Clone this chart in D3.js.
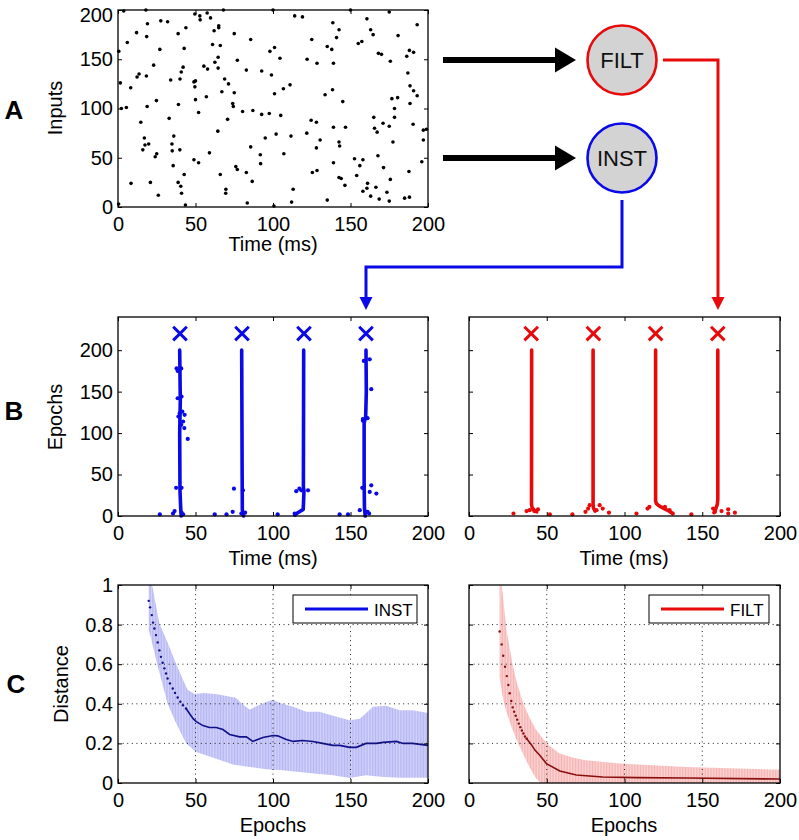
<!DOCTYPE html>
<html><head><meta charset="utf-8">
<script src="https://cdn.jsdelivr.net/npm/d3@7"></script>
<style>
body{margin:0;background:#fff;}
</style></head><body>
<svg id="fig" width="799" height="840" xmlns="http://www.w3.org/2000/svg"></svg>
<script>
// ---------------- DATA ----------------
// Panel A: input spike raster, [time (ms), input index]
const rasterSpikes = [[3.7,199],[18,200],[49.6,196],[52.8,194],[53,190],[57.5,197],[59.7,192],[68,200],[100,200],[150,200],[175,198],[114,194],[119,193],[160.6,191],[193,185],[19,186],[32,188],[18.5,173],[12,177],[6,167],[27.6,189],[43.8,182],[38.8,176],[62,179],[65,182],[65,184],[75,176],[85.6,170],[61,165],[66,164],[42.7,161],[27,160],[64.6,152],[62.5,147],[55.4,143],[57.8,140],[64.6,141],[77,149],[101,162],[98,158],[104.5,151],[82.8,139],[92.7,138],[99,134],[34,129],[23,144],[18.3,133],[13.6,135],[12.3,132],[42,142],[40.8,137],[40,130],[1.5,126],[8.2,121],[2.2,100],[5.4,101],[24.8,108],[18.8,102],[39,104],[49,127],[50,128],[49.6,122],[50,109],[52,96],[57,112],[68.8,130],[71.3,125],[67,117],[75,116],[74,105],[74.4,102],[80.4,97],[87,98],[70.7,89],[64.4,77],[92.7,94],[97.6,95],[105,93],[101,115],[106.7,120],[111,124],[14.7,86],[33,90],[17,70],[17.4,63],[19.8,64],[16,58],[24,51],[25,54],[36,72],[34.8,64],[35,57],[39.9,58],[35.6,42],[49,48],[52,45],[59,55],[42.7,33],[38.8,25],[40.5,21],[41,14],[43.5,2],[8.4,24],[20.9,25],[26,12],[0.4,3],[0.5,158],[66,33],[69.6,18],[69.5,14],[76,41],[77,38],[82.8,35],[86.6,26],[85.6,61],[92,44],[95,70],[91.8,53],[83.4,4],[100.6,1],[102,74],[107,54],[111.6,72],[113,18],[112,5],[121.8,75],[124.6,88],[128,86],[130.4,68],[128,60],[125.4,35],[128.4,37],[122,150],[128.4,146],[125,170],[135,163],[137.9,160],[133.6,114],[138.4,119],[145,107],[139,81],[146.8,81],[139,45],[142.6,66],[143,62],[142.6,30],[144,29],[146.4,22],[135,7],[139,146],[138.6,187],[142.6,180],[141,172],[155,166],[157.3,168],[163,180],[164.6,175],[168,156],[170,155],[175.7,148],[180.7,174],[186.3,153],[188,159],[190.7,157],[187,136],[188.4,123],[190.7,118],[193,113],[188.4,105],[176.7,110],[180.4,111],[178.4,100],[178.4,91],[165,91],[165.5,80],[167.2,76],[171,85],[175,82],[190.4,84],[197,78],[199,79],[177.4,66],[197,68],[196,46],[152.6,49],[158,48],[156,42],[154,32],[167.7,52],[171.3,40],[175.7,28],[161,24],[160.6,19],[158,16],[163,11],[166.4,20],[168.5,8],[175,6],[173.5,15],[184.9,9],[188,10],[187.7,36]];

// Panel B: target spike times and the epoch at which they are marked
const targetTimes = [40, 80, 120, 160];
const targetEpoch = 220;
// learned output spike trajectories, [time (ms), epoch]
const instTraces = [
  [[40.8,0],[40.5,8],[40,30],[39.8,100],[40.2,140],[39.8,200]],
  [[81,0],[80.5,3],[80.2,8],[80.1,50],[79.8,200]],
  [[114,1],[116,4],[119.5,8],[120,30],[119.6,35],[119.8,200]],
  [[159.5,0],[159,10],[158.8,40],[158.8,112],[159.8,120],[160.2,150],[160,200]]
];
const instStray = [[27,2],[35.5,3],[36.5,6],[37.5,34],[41,34],[41,4],[42,2],[37.8,178],[38.5,175],[40.8,178],[38.5,142],[41,144],[39.8,124],[41.5,126],[43,122],[42,114],[42.8,106],[40.8,110],[45,93],[39,120],
  [62.4,2],[70,2],[74,5],[74.8,33],[80.6,31],[79.6,3],[82,4],
  [103,2],[114,3],[115,30],[118.3,31],[122.6,31],[117,33],
  [143,2],[148.4,2],[156,7],[161,5],[162,3],[163.4,37],[162.4,29],[166.7,27],[157.6,34],[158,117],[161,118],[163.4,153],[162.4,189],[158.6,187],[158,115]];
const filtTraces = [
  [[43.5,5],[42,7],[40.6,10],[40.2,14],[40.3,200]],
  [[81,6],[80,10],[79.8,14],[79.8,200]],
  [[131,3],[128.5,6],[125.5,9],[122.5,12],[120.5,15],[120,18],[120,200]],
  [[157.5,4],[158.5,8],[159.7,14],[160,20],[160,200]]
];
const filtStray = [[28.6,3],[37,6],[39,7],[42,6],[44.4,8],[52,2],[66.5,2],[74.9,5],[76.6,9],[77.6,13],[82,7],[84,13],[86,9],[90,4],[107.7,3],[114.8,9],[116,11],[126,11],[129,7],[131,3],[143,2],[157,9],[158.2,5],[162.4,6],[166.7,8],[166.7,3],[171,4]];

// Panel C: distance vs epochs, [epoch, distance]
const instMeanDots = [[19.8,0.92],[20.7,0.887],[21.8,0.848],[22.6,0.81],[23.5,0.78],[24.5,0.747],[25.6,0.71],[26.7,0.67],[27.7,0.637],[28.8,0.607],[29.9,0.579],[31,0.553],[32,0.528],[33.5,0.503],[35.3,0.477],[36.8,0.455],[38.5,0.432],[40.2,0.41],[41.9,0.393],[43.9,0.376]];
const instMeanLine = [[43.9,0.376],[46.2,0.35],[48.5,0.325],[50.5,0.31],[54.8,0.29],[59,0.28],[63.4,0.28],[67.7,0.27],[72,0.245],[78.5,0.233],[82.8,0.233],[87,0.21],[93.5,0.23],[100,0.24],[103,0.238],[108.6,0.22],[113,0.21],[119,0.215],[125.8,0.21],[132,0.2],[138.7,0.19],[143,0.19],[149.5,0.18],[153.8,0.18],[160,0.2],[166.7,0.2],[171,0.205],[179.6,0.21],[184,0.2],[190,0.2],[200,0.19]];
const instUpper = [[19.8,1.08],[22.5,0.98],[26.7,0.806],[32,0.71],[37.4,0.604],[42,0.52],[45,0.47],[49.5,0.45],[55,0.455],[63,0.45],[70,0.44],[76,0.43],[80,0.4],[85,0.37],[90,0.39],[96,0.41],[100,0.42],[106,0.4],[113,0.385],[121.5,0.36],[130,0.36],[138.7,0.34],[149.5,0.317],[156,0.325],[164.5,0.385],[173,0.39],[181.7,0.368],[190,0.368],[200,0.354]];
const instLower = [[19.8,0.77],[21,0.74],[25.3,0.6],[32,0.4],[37.6,0.3],[44,0.2],[50.5,0.157],[63.4,0.123],[74,0.094],[85,0.081],[95.7,0.069],[106,0.064],[117,0.056],[128,0.047],[138.7,0.039],[149.5,0.025],[160,0.039],[171,0.03],[181.7,0.027],[200,0.027]];
const filtMeanDots = [[19.7,0.765],[21,0.7],[22,0.643],[23.2,0.587],[24.3,0.54],[25.3,0.495],[26.2,0.453],[27.2,0.414],[28.1,0.382],[29,0.36],[30,0.34],[31,0.32],[32,0.3],[33,0.282],[34,0.265],[35,0.25],[36,0.235],[37,0.225]];
const filtMeanLine = [[37,0.225],[38,0.215],[40,0.195],[42.5,0.165],[45.5,0.14],[49.8,0.098],[58.4,0.061],[69,0.04],[86,0.03],[108,0.027],[140,0.025],[200,0.02]];
const filtUpper = [[19.7,1.1],[24,0.78],[28,0.6],[31,0.5],[35,0.4],[39,0.33],[43,0.27],[50,0.2],[58,0.15],[66,0.13],[75,0.115],[97,0.098],[140,0.081],[200,0.067]];
const filtLower = [[19.7,0.53],[22,0.42],[24,0.36],[27,0.29],[30.5,0.22],[34,0.16],[37,0.11],[40,0.065],[43,0.025],[46,0],[200,0]];

const xTicks = [0,50,100,150,200];
const yTicksA = [0,50,100,150,200];
const yTicksB = [0,50,100,150,200];
const yTicksC = [0,0.2,0.4,0.6,0.8,1];

// ---------------- DRAWING ----------------
const FF = '"Liberation Sans", Arial, Helvetica, sans-serif';
const BLUE = "#0a0ae8", RED = "#e80a0a";
const svg = d3.select("#fig").attr("font-family", FF);

const defs = svg.append("defs");
function stripes(id, base, stripe){
  const p = defs.append("pattern").attr("id", id).attr("patternUnits","userSpaceOnUse")
    .attr("width",1.55).attr("height",10);
  p.append("rect").attr("width",1.55).attr("height",10).attr("fill",base);
  p.append("rect").attr("width",0.7).attr("height",10).attr("fill",stripe);
}
stripes("stripeBlue", "#d2d2fb", "#b4b4f2");
stripes("stripeRed", "#fcd4d4", "#f5b0b0");

function clip(id, x, y){
  defs.append("clipPath").attr("id",id).append("rect")
    .attr("x",x.range()[0]).attr("y",y.range()[1])
    .attr("width",x.range()[1]-x.range()[0]).attr("height",y.range()[0]-y.range()[1]);
}

function axes(x, y, yt, showY, yfmt){
  const g = svg.append("g");
  const [x0,x1] = x.range(), [y0,y1] = y.range();
  g.append("g").attr("transform",`translate(0,${y0})`)
    .call(d3.axisBottom(x).tickValues(xTicks).tickSizeInner(-4).tickSizeOuter(0).tickPadding(10).tickFormat(d3.format("d")));
  g.append("g").attr("transform",`translate(0,${y1})`)
    .call(d3.axisTop(x).tickValues(xTicks).tickSizeInner(-4).tickSizeOuter(0).tickFormat(""));
  const left = g.append("g").attr("transform",`translate(${x0},0)`)
    .call(d3.axisLeft(y).tickValues(yt).tickSizeInner(-4).tickSizeOuter(0).tickPadding(5).tickFormat(showY ? yfmt : ""));
  g.append("g").attr("transform",`translate(${x1},0)`)
    .call(d3.axisRight(y).tickValues(yt).tickSizeInner(-4).tickSizeOuter(0).tickFormat(""));
  g.selectAll(".domain").remove();
  g.selectAll(".tick line").attr("stroke","#000").attr("stroke-width",1);
  g.selectAll("g").attr("font-size",20).attr("font-family",FF);
  g.selectAll("text").attr("fill","#000");
  g.append("rect").attr("x",x0).attr("y",y1).attr("width",x1-x0).attr("height",y0-y1)
    .attr("fill","none").attr("stroke","#000").attr("stroke-width",1.3);
  return left;
}
function label(text, x, y, rot, size, weight){
  const t = svg.append("text").attr("font-size",size||20).attr("font-weight",weight||"normal")
    .attr("text-anchor","middle").attr("fill","#000").text(text);
  if (rot) t.attr("transform",`translate(${x},${y}) rotate(-90)`);
  else t.attr("x",x).attr("y",y);
}

// ---- Panel A ----
const xA = d3.scaleLinear().domain([0,200]).range([118,428]);
const yA = d3.scaleLinear().domain([0,200]).range([207,10]);
svg.append("g").selectAll("circle").data(rasterSpikes).join("circle")
  .attr("cx",d=>xA(d[0])).attr("cy",d=>yA(d[1])).attr("r",1.8).attr("fill","#000");
const leftA = axes(xA, yA, yTicksA, true, d3.format("d"));
// keep the top tick label inside the picture
leftA.selectAll(".tick text").filter(d=>d===200).attr("dy","0.55em");
label("Time (ms)", 273, 251);
label("Inputs", 62, 108, true);
label("A", 14, 119, false, 26, "bold");

// diagram: arrows and neuron nodes
function arrowHead(x, y, dir, len, half, color){
  let pts;
  if (dir === "right") pts = [[x-len,y-half],[x,y],[x-len,y+half]];
  else pts = [[x-half,y-len],[x,y],[x+half,y-len]];
  svg.append("polygon").attr("points", pts.map(p=>p.join(",")).join(" ")).attr("fill",color);
}
const nodes = [{name:"FILT", cx:622, cy:60, color:RED},{name:"INST", cx:622, cy:158, color:BLUE}];
nodes.forEach(n=>{
  svg.append("line").attr("x1",443).attr("x2",558).attr("y1",n.cy).attr("y2",n.cy)
    .attr("stroke","#000").attr("stroke-width",6);
  arrowHead(576, n.cy, "right", 21, 12.5, "#000");
  svg.append("circle").attr("cx",n.cx).attr("cy",n.cy).attr("r",34.5)
    .attr("fill","#d3d3d3").attr("stroke",n.color).attr("stroke-width",2.6);
  svg.append("text").attr("x",n.cx).attr("y",n.cy+8).attr("text-anchor","middle")
    .attr("font-size",22).attr("fill","#111").text(n.name);
});
svg.append("path").attr("d","M663,60 H718 V298").attr("fill","none").attr("stroke",RED).attr("stroke-width",3);
arrowHead(718, 310, "down", 13, 6.5, RED);
svg.append("path").attr("d","M622,200 V267 H366 V298").attr("fill","none").attr("stroke",BLUE).attr("stroke-width",3);
arrowHead(366, 310, "down", 13, 6.5, BLUE);

// ---- Panel B ----
const yB = d3.scaleLinear().domain([0,240]).range([516,317]);
const xBL = d3.scaleLinear().domain([0,200]).range([118,428]);
const xBR = d3.scaleLinear().domain([0,200]).range([469,780]);
function panelB(x, traces, stray, color){
  const g = svg.append("g");
  const line = d3.line().x(d=>x(d[0])).y(d=>yB(d[1]));
  g.selectAll("path").data(traces).join("path").attr("d",line)
    .attr("fill","none").attr("stroke",color).attr("stroke-width",3.6).attr("stroke-linecap","round").attr("stroke-linejoin","round");
  g.selectAll("circle").data(stray).join("circle")
    .attr("cx",d=>x(d[0])).attr("cy",d=>yB(d[1])).attr("r",2.1).attr("fill",color);
  const s = 6.8;
  g.selectAll("path.x").data(targetTimes).join("path").attr("class","x")
    .attr("d",t=>{const cx=x(t), cy=yB(targetEpoch);
      return `M${cx-s},${cy-s}L${cx+s},${cy+s}M${cx-s},${cy+s}L${cx+s},${cy-s}`;})
    .attr("stroke",color).attr("stroke-width",3).attr("fill","none");
}
panelB(xBL, instTraces, instStray, BLUE);
panelB(xBR, filtTraces, filtStray, RED);
axes(xBL, yB, yTicksB, true, d3.format("d"));
axes(xBR, yB, yTicksB, false);
label("Time (ms)", 273, 565);
label("Time (ms)", 624, 565);
label("Epochs", 62, 417, true);
label("B", 14, 420, false, 26, "bold");

// ---- Panel C ----
const yC = d3.scaleLinear().domain([0,1]).range([783,585]);
const xCL = d3.scaleLinear().domain([0,200]).range([118,428]);
const xCR = d3.scaleLinear().domain([0,200]).range([469,780]);
function panelC(x, id, upper, lower, dots, meanLine, fillId, meanColor, legColor, legName){
  clip(id, x, yC);
  const g = svg.append("g").attr("clip-path",`url(#${id})`);
  const line = d3.line().x(d=>x(d[0])).y(d=>yC(d[1]));
  const band = upper.concat(lower.slice().reverse());
  g.append("path").attr("d", line(band)+"Z").attr("fill",`url(#${fillId})`);
  // grid
  const [x0,x1] = x.range(), [y0,y1] = yC.range();
  const grid = svg.append("g").attr("stroke","#222").attr("stroke-width",1).attr("stroke-dasharray","1,3.6");
  [50,100,150].forEach(v=>grid.append("line").attr("x1",x(v)).attr("x2",x(v)).attr("y1",y1).attr("y2",y0));
  [0.2,0.4,0.6,0.8].forEach(v=>grid.append("line").attr("y1",yC(v)).attr("y2",yC(v)).attr("x1",x0).attr("x2",x1));
  g.append("path").attr("d",line(meanLine)).attr("fill","none").attr("stroke",meanColor).attr("stroke-width",1.6);
  g.selectAll("circle").data(dots).join("circle").attr("cx",d=>x(d[0])).attr("cy",d=>yC(d[1])).attr("r",1.2).attr("fill",meanColor);
  // legend
  const lg = svg.append("g");
  const lx = x1 - (legName==="INST"?135:131), ly = 595;
  const lw = legName==="INST"?124:120;
  lg.append("rect").attr("x",lx).attr("y",ly).attr("width",lw).attr("height",28).attr("fill","#fff").attr("stroke","#000").attr("stroke-width",1);
  lg.append("line").attr("x1",lx+12).attr("x2",lx+75).attr("y1",ly+14).attr("y2",ly+14).attr("stroke",legColor).attr("stroke-width",3);
  lg.append("text").attr("x",lx+81).attr("y",ly+20.5).attr("font-size",17).attr("fill","#000").text(legName);
}
panelC(xCL, "clipCL", instUpper, instLower, instMeanDots, instMeanLine, "stripeBlue", "#10108a", BLUE, "INST");
panelC(xCR, "clipCR", filtUpper, filtLower, filtMeanDots, filtMeanLine, "stripeRed", "#8a1010", RED, "FILT");
axes(xCL, yC, yTicksC, true, d3.format("~g"));
axes(xCR, yC, yTicksC, false);
label("Epochs", 273, 832);
label("Epochs", 624, 832);
label("Distance", 68, 684, true);
label("C", 16, 693, false, 26, "bold");
</script>
</body></html>
